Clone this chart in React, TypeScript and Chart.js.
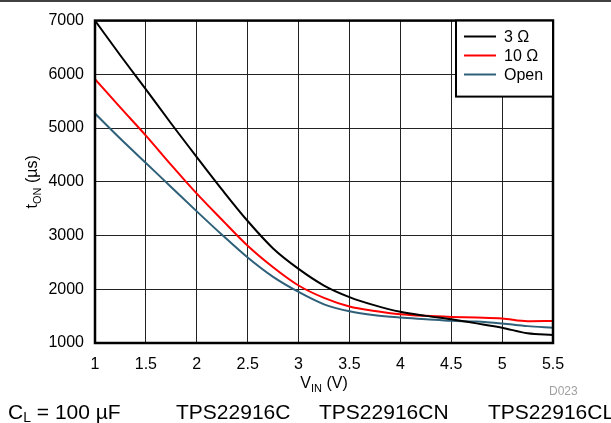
import React, { useEffect, useRef } from "react";
import { Chart, registerables } from "chart.js";

Chart.register(...registerables);

const voltages = [1, 1.25, 1.5, 1.75, 2, 2.25, 2.5, 2.75, 3, 3.25, 3.5, 3.75, 4, 4.25, 4.5, 4.75, 5, 5.25, 5.5];
const ton3ohm = [7000, 6350, 5720, 5080, 4460, 3850, 3270, 2760, 2380, 2070, 1855, 1700, 1580, 1505, 1440, 1365, 1285, 1180, 1150];
const ton10ohm = [5910, 5380, 4860, 4310, 3780, 3290, 2810, 2410, 2070, 1840, 1680, 1597, 1536, 1505, 1486, 1474, 1456, 1405, 1410];
const tonOpen = [5270, 4800, 4350, 3900, 3450, 3010, 2590, 2230, 1950, 1720, 1590, 1517, 1474, 1443, 1412, 1400, 1363, 1314, 1283];
const seriesLabels = ["3 \u03A9", "10 \u03A9", "Open"];
const seriesColors = ["#000000", "#ff0000", "#2f6079"];
const captionItems = ["TPS22916C", "TPS22916CN", "TPS22916CL"];

const FONT = "'Liberation Sans', Arial, sans-serif";

type Part = { t: string; sub?: boolean };

function drawRich(ctx: CanvasRenderingContext2D, parts: Part[], x: number, y: number, size: number, subSize: number, subOff: number, align: "left" | "center") {
  let total = 0;
  const widths = parts.map((p) => {
    ctx.font = `${p.sub ? subSize : size}px ${FONT}`;
    const w = ctx.measureText(p.t).width;
    total += w;
    return w;
  });
  let cx = align === "center" ? x - total / 2 : x;
  ctx.textAlign = "left";
  ctx.textBaseline = "alphabetic";
  parts.forEach((p, i) => {
    ctx.font = `${p.sub ? subSize : size}px ${FONT}`;
    ctx.fillText(p.t, cx, p.sub ? y + subOff : y);
    cx += widths[i];
  });
}

const decorPlugin = {
  id: "decor",
  afterDraw(chart: any) {
    const ctx: CanvasRenderingContext2D = chart.ctx;
    const a = chart.chartArea;
    ctx.save();
    // top rule
    ctx.strokeStyle = "#000";
    ctx.lineWidth = 1.5;
    ctx.beginPath();
    ctx.moveTo(0, 1);
    ctx.lineTo(chart.width, 1);
    ctx.stroke();
    // plot border
    ctx.lineWidth = 2.5;
    ctx.strokeRect(a.left, a.top, a.right - a.left, a.bottom - a.top);
    // legend box
    const bx = 456, by = a.top, bw = a.right - 456, bh = 76;
    ctx.fillStyle = "#fff";
    ctx.fillRect(bx, by, bw, bh);
    ctx.lineWidth = 2;
    ctx.strokeRect(bx, by, bw, bh);
    const rows = [36.5, 55.5, 74.5];
    chart.data.datasets.forEach((ds: any, i: number) => {
      ctx.strokeStyle = ds.borderColor;
      ctx.lineWidth = 2;
      ctx.beginPath();
      ctx.moveTo(464, rows[i]);
      ctx.lineTo(496, rows[i]);
      ctx.stroke();
      ctx.fillStyle = "#000";
      ctx.font = `16px ${FONT}`;
      ctx.textAlign = "left";
      ctx.textBaseline = "middle";
      ctx.fillText(ds.label, 504, rows[i] + 1);
    });
    // axis titles
    ctx.fillStyle = "#000";
    drawRich(ctx, [{ t: "V" }, { t: "IN", sub: true }, { t: " (V)" }], (a.left + a.right) / 2, 388, 16, 11, 4, "center");
    ctx.save();
    ctx.translate(37, (a.top + a.bottom) / 2);
    ctx.rotate(-Math.PI / 2);
    drawRich(ctx, [{ t: "t" }, { t: "ON", sub: true }, { t: " (\u00B5s)" }], 0, 0, 16, 11, 4, "center");
    ctx.restore();
    // caption
    drawRich(ctx, [{ t: "C" }, { t: "L", sub: true }, { t: " = 100 \u00B5F" }], 8, 419, 21, 14, 3, "left");
    const xs = [176, 319, 488];
    captionItems.forEach((s, i) => {
      ctx.font = `21px ${FONT}`;
      ctx.textAlign = "left";
      ctx.textBaseline = "alphabetic";
      ctx.fillText(s, xs[i], 419);
    });
    ctx.fillStyle = "#a0a0a0";
    ctx.font = `12px ${FONT}`;
    ctx.fillText("D023", 549, 395);
    ctx.restore();
  },
};

export default function App() {
  const ref = useRef<HTMLCanvasElement>(null);
  useEffect(() => {
    if (!ref.current) return;
    const mk = (vals: number[]) => voltages.map((v, i) => ({ x: v, y: vals[i] }));
    const chart = new Chart(ref.current, {
      type: "line",
      data: {
        datasets: [ton3ohm, ton10ohm, tonOpen].map((vals, i) => ({
          label: seriesLabels[i],
          data: mk(vals),
          borderColor: seriesColors[i],
          backgroundColor: seriesColors[i],
          borderWidth: 2,
          pointRadius: 0,
          cubicInterpolationMode: "monotone" as const,
          fill: false,
        })),
      },
      options: {
        responsive: false,
        animation: false,
        layout: { padding: { left: 0, right: 58, top: 17, bottom: 0 } },
        plugins: { legend: { display: false }, tooltip: { enabled: false } },
        scales: {
          x: {
            type: "linear",
            min: 1,
            max: 5.5,
            afterFit: (s: any) => { s.height = 80; },
            border: { display: false },
            grid: { color: "#222", lineWidth: 1, drawTicks: false },
            ticks: {
              stepSize: 0.5,
              padding: 12,
              color: "#000",
              font: { size: 16, family: FONT },
              callback: (v: any) => String(Math.round(Number(v) * 10) / 10),
            },
          },
          y: {
            min: 1000,
            max: 7000,
            afterFit: (s: any) => { s.width = 95; },
            border: { display: false },
            grid: { color: "#222", lineWidth: 1, drawTicks: false },
            ticks: {
              stepSize: 1000,
              padding: 11,
              color: "#000",
              font: { size: 16, family: FONT },
              callback: (v: any) => String(v),
            },
          },
        },
      },
      plugins: [decorPlugin],
    });
    return () => chart.destroy();
  }, []);
  return (
    <div style={{ position: "absolute", left: 0, top: 0, width: 611, height: 423 }}>
      <canvas ref={ref} width={611} height={423} style={{ display: "block" }} />
    </div>
  );
}
